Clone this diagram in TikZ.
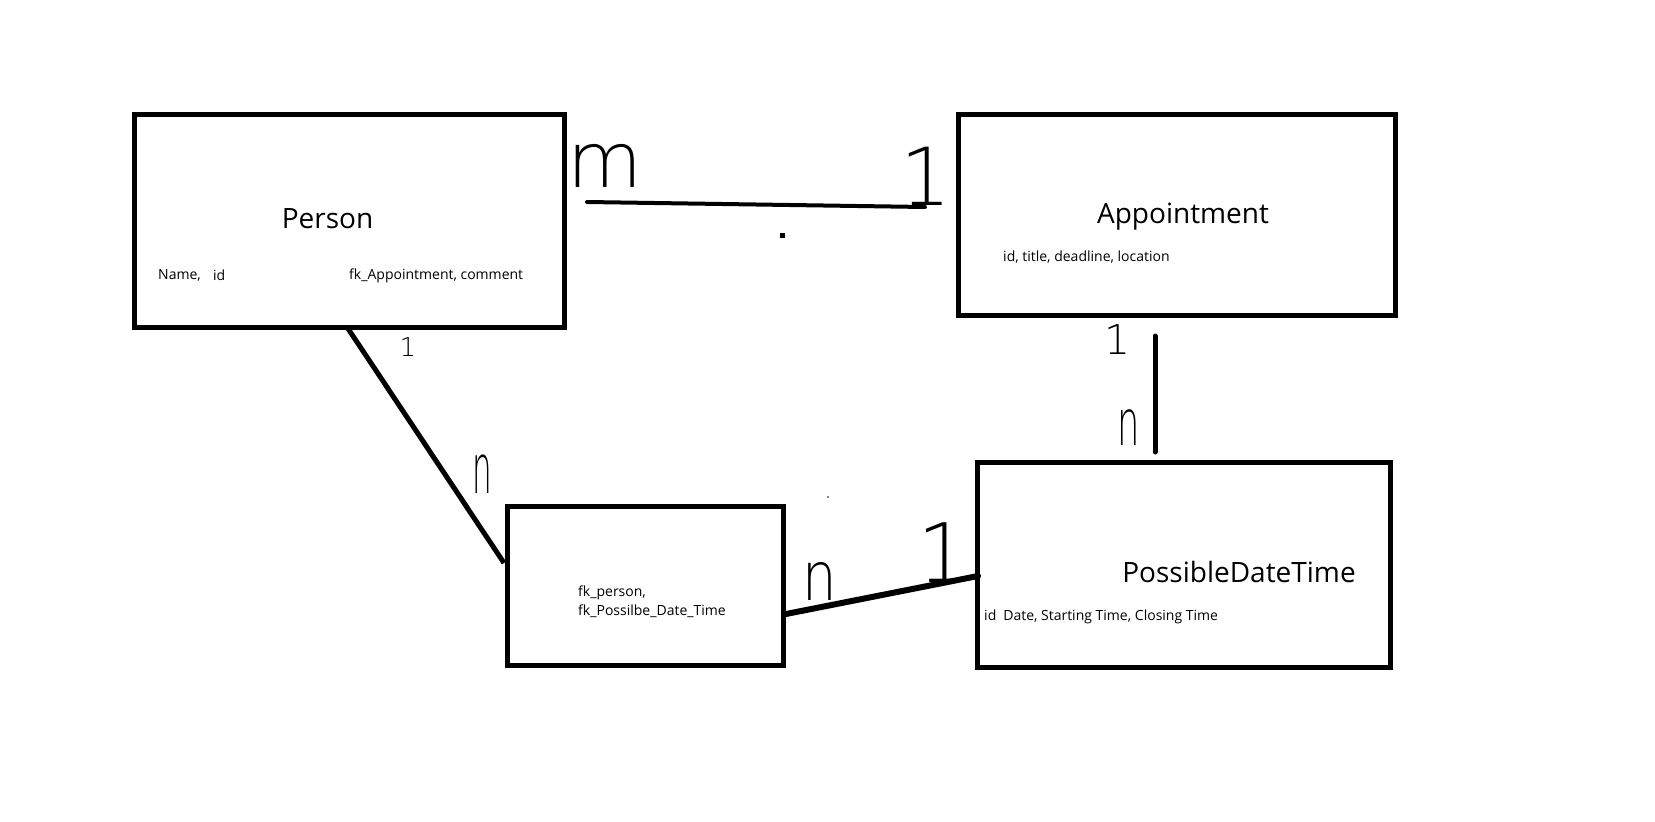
\documentclass[tikz,border=0pt]{standalone}
\usepackage{fontspec}
\usepackage{graphicx}
\setmainfont{Open Sans}
\newfontfamily\handfont{DejaVu Sans ExtraLight}
\begin{document}
\begin{tikzpicture}[x=1pt,y=-1pt,
  entity/.style={draw=black, line width=5pt, inner sep=0pt, fill=none},
  title/.style={inner sep=0pt, anchor=base, font=\fontsize{28}{34}\selectfont},
  attr/.style={inner sep=0pt, anchor=base west, font=\fontsize{14}{17}\selectfont},
  rel/.style={line width=5pt, line cap=round},
  hand/.style={inner sep=0pt, anchor=center}]
\fill[white] (0,0) rectangle (1655,822);
\useasboundingbox (0,0) rectangle (1655,822);

% entities
\node[entity, minimum width=430pt, minimum height=213pt] (person) at (349,220.5) {};
\node[entity, minimum width=437pt, minimum height=201pt] (appt) at (1177,215) {};
\node[entity, minimum width=276pt, minimum height=159pt] (link) at (645,585.5) {};
\node[entity, minimum width=413pt, minimum height=205pt] (pdt) at (1183.5,564.5) {};

% texts
\node[title] (tperson) at (327.5,228) {Person};
\node[attr] (tname) at (158,279) {Name,};
\node[attr] (tid) at (213,280) {id};
\node[attr] (tfkappt) at (349,279) {fk\_Appointment, comment};
\node[title] (tappt) at (1183,223) {Appointment};
\node[attr] (tapptattr) at (1003,261) {id, title, deadline, location};
\node[attr] (tfkperson) at (578,596) {fk\_person,};
\node[attr] (tfkpdt) at (578,615) {fk\_Possilbe\_Date\_Time};
\node[title] (tpdt) at (1239,582) {PossibleDateTime};
\node[attr] (tpdtattr) at (984,620) {id\hspace{0.5em}Date, Starting Time, Closing Time};

% connector end points
\coordinate (pa1) at (587,202);
\coordinate (pa2) at (925,207);
\coordinate (pl1) at (347,327);
\coordinate (pl2) at (504,563);
\coordinate (lp1) at (786,614);
\coordinate (lp2) at (978,576);
\coordinate (ap1) at (1155,336);
\coordinate (ap2) at (1155,452);

\draw[rel, line width=4pt] (pa1) -- (pa2);
\draw[rel, line cap=butt] (pl1) -- (pl2);
\draw[rel, line width=6pt] (lp1) -- (lp2);
\draw[rel] (ap1) -- (ap2);

% stray dots
\fill (779.5,232.5) rectangle (784.5,237.5);
\fill (828,497) circle (0.8);

% cardinality labels
\node[hand, font=\handfont\fontsize{77}{80}\selectfont] (cm) at (605,166) {m};
\node[hand, font=\handfont\fontsize{80}{84}\selectfont] (c1a) at (926,176) {1};
\node[hand, font=\handfont\fontsize{26}{30}\selectfont] (c1b) at (408,347) {1};
\node[hand, font=\handfont\fontsize{69}{72}\selectfont] (cnb) at (482,474) {\scalebox{0.45}[1]{n}};
\node[hand, font=\handfont\fontsize{41}{44}\selectfont] (c1c) at (1118,340) {1};
\node[hand, font=\handfont\fontsize{64}{68}\selectfont] (cnc) at (1129,428) {\scalebox{0.55}[1]{n}};
\node[hand, font=\handfont\fontsize{68}{72}\selectfont] (cnd) at (820,581) {\scalebox{0.8}[1]{n}};
\node[hand, font=\handfont\fontsize{82}{86}\selectfont] (c1d) at (944,553) {1};
\end{tikzpicture}
\end{document}
